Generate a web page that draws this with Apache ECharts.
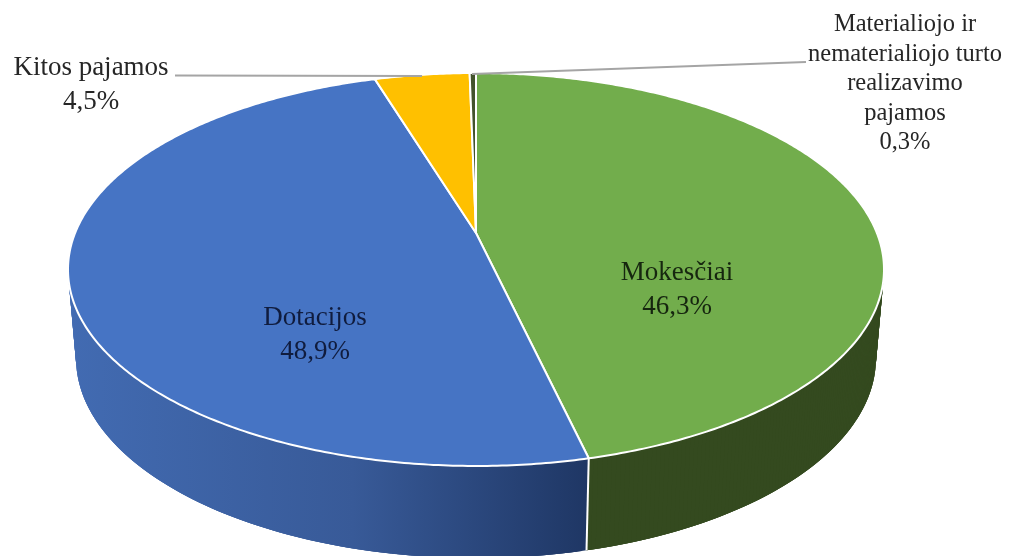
<!DOCTYPE html>
<html>
<head>
<meta charset="utf-8">
<style>
  html, body { margin: 0; padding: 0; background: #fff; }
  #myChart { width: 1011px; height: 556px; }
</style>
</head>
<body>
<div id="myChart"></div>
<script src="https://cdn.jsdelivr.net/npm/echarts@6/dist/echarts.min.js"></script>
<script>
var categories = ['Mokesčiai', 'Dotacijos', 'Kitos pajamos', 'Materialiojo ir\nnematerialiojo turto\nrealizavimo\npajamos'];
var shares = [46.3, 48.9, 4.5, 0.3];
var shareLabels = ['46,3%', '48,9%', '4,5%', '0,3%'];

var topColors = ['#72ad4c', '#4674c4', '#ffc000', '#43532c'];
var wallColors = [
  '#344a1f',
  new echarts.graphic.LinearGradient(68, 0, 586, 0, [
    { offset: 0, color: '#426bb2' },
    { offset: 0.55, color: '#385a98' },
    { offset: 1, color: '#1f3765' }
  ], true),
  '#997300',
  '#2a3a1c'
];

// tilted circle -> screen, near edge comes out bigger
var tilt = 0.1857;
var topPlane = { x: 476, y: 233, a: 400.9, b: 189.7 };
var bottomPlane = { x: 476, y: 321, a: 393, b: 193.1 };

function project (plane, angle) {
  var u = Math.sin(angle);
  var v = -Math.cos(angle);
  var d = 1 - tilt * v;
  return [plane.x + plane.a * u / d, plane.y + plane.b * v / d];
}

function rim (plane, from, to) {
  var pts = [];
  var n = Math.max(2, Math.ceil((to - from) / 0.01));
  for (var i = 0; i <= n; i++) {
    pts.push(project(plane, from + (to - from) * i / n));
  }
  return pts;
}

function sliceAngles (index) {
  var total = 0;
  var before = 0;
  for (var i = 0; i < shares.length; i++) {
    if (i < index) before += shares[i];
    total += shares[i];
  }
  return [before / total * Math.PI * 2, (before + shares[index]) / total * Math.PI * 2];
}

// wall is a strip of overlapping quads, one polygon would lose the side tangents
function renderWall (params, api) {
  var range = sliceAngles(params.dataIndex);
  var fill = wallColors[params.dataIndex];
  var upper = rim(topPlane, range[0], range[1]);
  var lower = rim(bottomPlane, range[0], range[1]);
  var children = [];
  for (var i = 0; i < upper.length - 1; i++) {
    var j = Math.min(i + 3, upper.length - 1);
    children.push({
      type: 'polygon',
      shape: { points: [upper[i], upper[j], lower[j], lower[i]] },
      style: { fill: fill }
    });
  }
  children.push({
    type: 'polyline',
    shape: { points: [upper[0], lower[0]] },
    style: { stroke: '#fff', lineWidth: 2, fill: null }
  });
  return { type: 'group', children: children };
}

function renderTop (params, api) {
  var range = sliceAngles(params.dataIndex);
  var pts = [[topPlane.x, topPlane.y]].concat(rim(topPlane, range[0], range[1]));
  return {
    type: 'polygon',
    shape: { points: pts },
    style: { fill: topColors[params.dataIndex], stroke: '#fff', lineWidth: 2, lineJoin: 'round' }
  };
}

var sliceData = shares.map(function (v, i) {
  return { value: v, name: categories[i] };
});

var labelSpots = [
  { x: 677, y: 290, fill: '#16260f', size: 27, lh: 34 },
  { x: 315, y: 335, fill: '#101c3e', size: 27, lh: 34 },
  { x: 91, y: 85, fill: '#262626', size: 27, lh: 34 },
  { x: 905, y: 84, fill: '#262626', size: 24.5, lh: 29.5 }
];

var chart = echarts.init(document.getElementById('myChart'));
chart.setOption({
  backgroundColor: '#fff',
  animation: false,
  series: [
    { type: 'custom', coordinateSystem: 'none', z: 1, silent: true, data: sliceData, renderItem: renderWall },
    { type: 'custom', coordinateSystem: 'none', z: 2, silent: true, data: sliceData, renderItem: renderTop }
  ],
  graphic: {
    elements: [
      { type: 'polyline', z: 3, silent: true, shape: { points: [[175, 75.5], [422, 76]] }, style: { stroke: '#a5a5a5', lineWidth: 2, fill: null } },
      { type: 'polyline', z: 3, silent: true, shape: { points: [[472, 74], [806, 62]] }, style: { stroke: '#a5a5a5', lineWidth: 2, fill: null } }
    ].concat(labelSpots.map(function (spot, i) {
      return {
        type: 'text',
        z: 4,
        silent: true,
        x: spot.x,
        y: spot.y,
        style: {
          text: categories[i] + '\n' + shareLabels[i],
          fill: spot.fill,
          font: spot.size + 'px "Liberation Serif"',
          lineHeight: spot.lh,
          align: 'center',
          verticalAlign: 'middle'
        }
      };
    }))
  }
});
</script>
</body>
</html>
